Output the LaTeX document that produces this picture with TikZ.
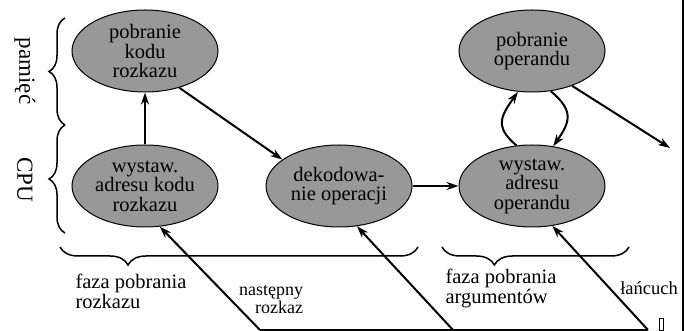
\documentclass[tikz,border=0pt]{standalone}
\usepackage{fontspec}
\setmainfont{Liberation Serif}
\usetikzlibrary{shapes,arrows.meta,positioning,decorations.pathreplacing}
\definecolor{ellgray}{RGB}{152,152,152}

\begin{document}
\begin{tikzpicture}[
    x=1pt, y=1pt,
    node distance=52pt,
    phase/.style={ellipse, draw, line width=1pt, fill=ellgray, minimum width=146pt, minimum height=82pt, inner sep=0pt, align=center, font=\fontsize{20.5}{19.5}\selectfont},
    arrow/.style={-{Stealth[length=12pt,width=8pt]}, line width=2pt},
    lbl/.style={inner sep=0pt, font=\fontsize{20.5}{20}\selectfont},
    side/.style={inner sep=0pt, rotate=-90, font=\fontsize{23}{23}\selectfont},
    curly/.style={decorate, line width=1.5pt}
]
    \useasboundingbox (0,0) rectangle (684,331);

    \node[phase] (adrkod) at (145,145) {wystaw.\\adresu kodu\\rozkazu};
    \node[phase, above=52pt of adrkod] (pobkod) {pobranie\\kodu\\rozkazu};
    \node[phase, right=47pt of adrkod] (dekod) {dekodowa-\\nie operacji};
    \node[phase, right=46pt of dekod] (adrop) {wystaw.\\adresu\\operandu};
    \node[phase, above=52pt of adrop] (pobop) {pobranie\\operandu};

    \coordinate (nast) at (260,1);
    \coordinate (mid) at (453,1);
    \coordinate (lanc) at (648,1);
    \coordinate (dalej) at (670,183);

    \draw[arrow] (adrkod) -- (pobkod);
    \draw[arrow] (pobkod.-47) -- (dekod.155);
    \draw[arrow] (dekod) -- (adrop);
    \draw[arrow] (adrop.111) to[out=140, in=-125, looseness=1.4] (pobop.-109);
    \draw[arrow] (pobop.-65) to[out=-40, in=55, looseness=1.4] (adrop.62);
    \draw[arrow] (pobop.-41) -- (dalej);

    % linia powrotu
    \draw[line width=2pt] (nast) -- (lanc);
    \draw[arrow] (nast) -- (adrkod.-70);
    \draw[arrow] (mid) -- (dekod.-66);
    \draw[arrow] (lanc) -- (adrop.-63);

    % klamry
    \draw[curly, decoration={brace, amplitude=16pt}] (65,206) -- (65,313);
    \draw[curly, decoration={brace, amplitude=16pt}] (65,98) -- (65,206);
    \draw[curly, decoration={brace, mirror, amplitude=18pt, aspect=0.19}] (60,84) -- (418,84);
    \draw[curly, decoration={brace, mirror, amplitude=18pt, aspect=0.28}] (442,84) -- (629,84);

    \node[side] (pam) at (25,260) {pamięć};
    \node[side] (cpu) at (25,151) {CPU};
    \node[lbl, align=left] (fazroz) at (131,40) {faza pobrania\\rozkazu};
    \node[lbl, align=right, font=\fontsize{18}{18}\selectfont] (nastroz) at (271,31) {następny\\rozkaz};
    \node[lbl, align=left] (fazarg) at (501,43) {faza pobrania\\argumentów};
    \node[lbl, font=\fontsize{18.5}{18.5}\selectfont] (lan) at (649,43) {łańcuch};

    \draw[line width=0.6pt] (659,1) rectangle (663,13);
    \draw[line width=2pt] (683,0) -- (683,331);
\end{tikzpicture}
\end{document}
